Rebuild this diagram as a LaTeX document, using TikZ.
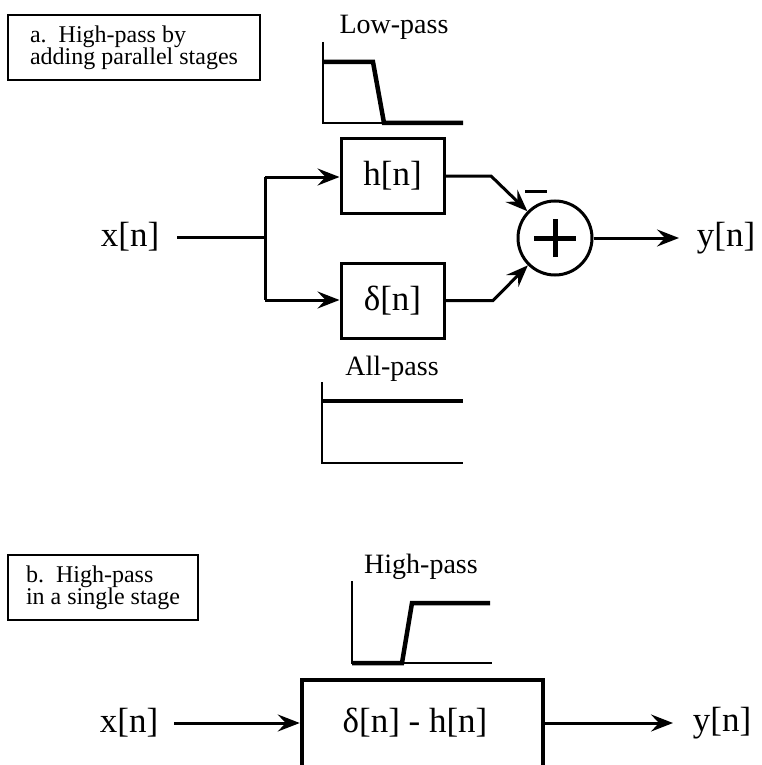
\documentclass[tikz,border=0pt]{standalone}
\usepackage{fontspec}
\setmainfont{Liberation Serif}
\usetikzlibrary{arrows.meta}
\begin{document}
\begin{tikzpicture}[x=1pt,y=-1pt,
  sig/.style={font=\fontsize{35}{38}\selectfont, inner sep=0pt},
  ttl/.style={font=\fontsize{28}{30}\selectfont, inner sep=0pt, anchor=base},
  lbl/.style={draw, line width=1.6pt, font=\fontsize{24}{22}\selectfont, align=left, inner xsep=0pt, inner ysep=0pt},
  blk/.style={draw, line width=3pt, minimum width=103pt, minimum height=75pt, inner sep=0pt, font=\fontsize{35}{38}\selectfont},
  conn/.style={line width=3pt},
  arr/.style={line width=3pt, -{Stealth[length=22pt, width=17pt, inset=8pt]}},
  axis/.style={line width=2pt},
  resp/.style={line width=4.5pt, line join=miter},
]
\clip (0,0) rectangle (761,765);
\fill[white] (0,0) rectangle (761,765);

% ---------- part a ----------
\node[lbl, minimum width=252pt, minimum height=65pt] (la) at (134,47.5) {a.\ \ High-pass by\\adding parallel stages};

% low-pass response
\node[ttl] (tlp) at (394,34) {Low-pass};
\draw[axis] (323,42) -- (323,123) -- (383,123);
\draw[resp] (323,62) -- (373,62) -- (384,123) -- (463,123);

\node[sig] (x1) at (130,237) {x[n]};
\node[blk] (h) at (392.5,176) {h[n]};
\node[blk] (d) at (392.5,300.5) {δ[n]};
\node[circle, draw, line width=3pt, minimum size=74pt, inner sep=0pt] (sum) at (555,238) {};
\draw[line width=5pt] ([xshift=-21pt]sum.center) -- ([xshift=21pt]sum.center);
\draw[line width=5pt] ([yshift=-19pt]sum.center) -- ([yshift=19pt]sum.center);
\node[fill=black, minimum width=22pt, minimum height=3pt, inner sep=0pt] (minus) at (536,191) {};
\node[sig] (y1) at (726,238) {y[n]};

\coordinate (xa) at (177,237);
\coordinate (split) at (265,237);
\draw[conn] (xa) -- (split);
\draw[conn] (265,177) -- (265,300);
\draw[arr] (265,177) -- (h.west |- 0,177);
\draw[arr] (265,300) -- (d.west |- 0,300);
\coordinate (hk) at (491,176);
\coordinate (dk) at (493,300.5);
\draw[arr, line join=miter] (h.east) -- (hk) -- (sum);
\draw[arr, line join=miter] (d.east) -- (dk) -- (sum);
\coordinate (yend) at (679,238);
\draw[arr] (sum.east) -- (yend);

% all-pass response
\node[ttl] (tap) at (392,375) {All-pass};
\draw[axis] (322,382) -- (322,463) -- (463,463);
\draw[resp] (322,401) -- (463,401);

% ---------- part b ----------
\node[lbl, minimum width=190pt, minimum height=65pt] (lb) at (103,587.5) {b.\ \ High-pass\\in a single stage};

\node[ttl] (thp) at (421,573) {High-pass};
\draw[axis] (352,581) -- (352,663) -- (492,663);
\draw[resp] (352,663) -- (402,663) -- (412,603) -- (490,603);

\node[draw, line width=4.5pt, minimum width=241pt, minimum height=120pt, inner sep=0pt] (big) at (422.5,740) {};
\node[sig] (bt) at (415,723) {δ[n] - h[n]};
\node[sig] (x2) at (129,723) {x[n]};
\node[sig] (y2) at (722,723) {y[n]};
\coordinate (xs) at (174,723);
\coordinate (ye) at (673,723);
\draw[arr] (xs) -- (xs -| big.west);
\draw[arr] (xs -| big.east) -- (ye);
\end{tikzpicture}
\end{document}
